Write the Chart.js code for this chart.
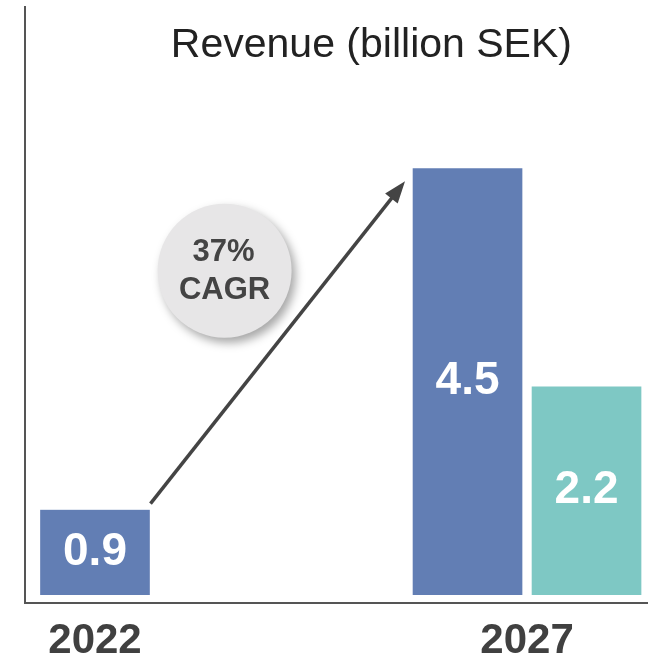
<!DOCTYPE html>
<html>
<head>
<meta charset="utf-8">
<title>Revenue (billion SEK)</title>
<script src="https://cdn.jsdelivr.net/npm/chart.js@4.4.1/dist/chart.umd.min.js"></script>
<style>
  html, body { margin: 0; padding: 0; background: #ffffff; }
  #wrap { width: 648px; height: 660px; position: relative; }
</style>
</head>
<body>
<div id="wrap"><canvas id="revenue-chart"></canvas></div>
<script>
var years = [2022, 2027];
var tickYears = [2022, 2027];
var revenueTotal = [0.9, 4.5];
var revenueNew = [null, 2.2];
var titleText = "Revenue (billion SEK)";
var cagrLines = ["37%", "CAGR"];

(function () {
  "use strict";

  var FONT = "'Liberation Sans', Arial, Helvetica, sans-serif";
  var BLUE = "#627eb4";
  var TEAL = "#7ec8c4";
  var INK = "#444444";

  function toPoints(values) {
    return years.map(function (year, i) {
      return { x: year, y: values[i] };
    });
  }

  // title, arrow, CAGR bubble and the value labels inside the bars
  var decorations = {
    id: "decorations",
    afterDatasetsDraw: function (chart) {
      var ctx = chart.ctx;
      var area = chart.chartArea;
      var xs = chart.scales.x;
      var ys = chart.scales.y;
      var blue = chart.getDatasetMeta(0).data;
      var gap = 5;

      ctx.save();

      // value labels
      chart.data.datasets.forEach(function (ds, di) {
        chart.getDatasetMeta(di).data.forEach(function (bar, i) {
          var v = ds.data[i].y;
          if (v === null || v === undefined) {
            return;
          }
          ctx.fillStyle = "#ffffff";
          ctx.font = "bold 46px " + FONT;
          ctx.textAlign = "center";
          ctx.textBaseline = "middle";
          ctx.fillText(v.toFixed(1), bar.x, (bar.y + bar.base) / 2);
        });
      });

      // growth arrow
      var x0 = blue[0].x + blue[0].width / 2 - gap + 1;
      var y0 = blue[0].y - 6;
      var x1 = blue[1].x - blue[1].width / 2 + gap - 8;
      var y1 = blue[1].y + 13;
      var ang = Math.atan2(y1 - y0, x1 - x0);
      var headLen = 22;
      var headW = 8;
      ctx.strokeStyle = INK;
      ctx.lineWidth = 3.5;
      ctx.beginPath();
      ctx.moveTo(x0, y0);
      ctx.lineTo(x1 - Math.cos(ang) * (headLen - 4), y1 - Math.sin(ang) * (headLen - 4));
      ctx.stroke();
      ctx.fillStyle = INK;
      ctx.beginPath();
      ctx.moveTo(x1, y1);
      ctx.lineTo(x1 - Math.cos(ang) * headLen - Math.sin(ang) * headW,
                 y1 - Math.sin(ang) * headLen + Math.cos(ang) * headW);
      ctx.lineTo(x1 - Math.cos(ang) * headLen + Math.sin(ang) * headW,
                 y1 - Math.sin(ang) * headLen - Math.cos(ang) * headW);
      ctx.closePath();
      ctx.fill();

      // CAGR bubble
      var cx = xs.getPixelForValue(2023.5);
      var cy = ys.getPixelForValue(3.42);
      ctx.save();
      ctx.shadowColor = "rgba(0, 0, 0, 0.35)";
      ctx.shadowBlur = 10;
      ctx.shadowOffsetX = 4;
      ctx.shadowOffsetY = 5;
      ctx.fillStyle = "#e7e6e7";
      ctx.beginPath();
      ctx.arc(cx, cy, 67, 0, Math.PI * 2);
      ctx.fill();
      ctx.restore();
      ctx.fillStyle = INK;
      ctx.font = "bold 31px " + FONT;
      ctx.textAlign = "center";
      ctx.textBaseline = "middle";
      ctx.fillText(cagrLines[0], cx - 1, cy - 18);
      ctx.fillText(cagrLines[1], cx, cy + 20);

      // title inside the plot frame
      ctx.fillStyle = "#222222";
      ctx.font = "41px " + FONT;
      ctx.textAlign = "center";
      ctx.textBaseline = "middle";
      ctx.fillText(titleText, area.left + area.width * 0.556, area.top + 39);

      ctx.restore();
    }
  };

  var canvas = document.getElementById("revenue-chart");
  new Chart(canvas.getContext("2d"), {
    type: "bar",
    data: {
      datasets: [
        {
          label: "Revenue",
          data: toPoints(revenueTotal),
          backgroundColor: BLUE,
          borderColor: "#ffffff",
          borderWidth: { left: 5, right: 5, top: 0, bottom: 0 },
          borderSkipped: false,
          barThickness: 119,
          skipNull: true
        },
        {
          label: "Revenue (new)",
          data: toPoints(revenueNew),
          backgroundColor: TEAL,
          borderColor: "#ffffff",
          borderWidth: { left: 5, right: 5, top: 0, bottom: 0 },
          borderSkipped: false,
          barThickness: 119,
          skipNull: true
        }
      ]
    },
    options: {
      responsive: true,
      maintainAspectRatio: false,
      animation: false,
      layout: { padding: { left: 25, top: 7, right: 0, bottom: 0 } },
      plugins: {
        legend: { display: false },
        tooltip: { enabled: false }
      },
      scales: {
        x: {
          type: "linear",
          offset: false,
          min: 2021.19,
          max: 2028.4,
          grid: { display: false, drawTicks: false, offset: false },
          border: { display: true, color: "#555555", width: 2 },
          afterBuildTicks: function (scale) {
            scale.ticks = tickYears.map(function (v) { return { value: v }; });
          },
          afterFit: function (scale) {
            scale.height = 57;
          },
          ticks: {
            padding: 13,
            color: "#404040",
            font: { family: FONT, size: 42, weight: "bold", lineHeight: 1.2 },
            maxRotation: 0,
            autoSkip: false,
            callback: function (value) { return String(value); }
          }
        },
        y: {
          min: -0.084,
          max: 6.2,
          grid: { display: false, drawTicks: false },
          border: { display: true, color: "#555555", width: 2 },
          ticks: { display: false }
        }
      }
    },
    plugins: [decorations]
  });
})();
</script>
</body>
</html>
